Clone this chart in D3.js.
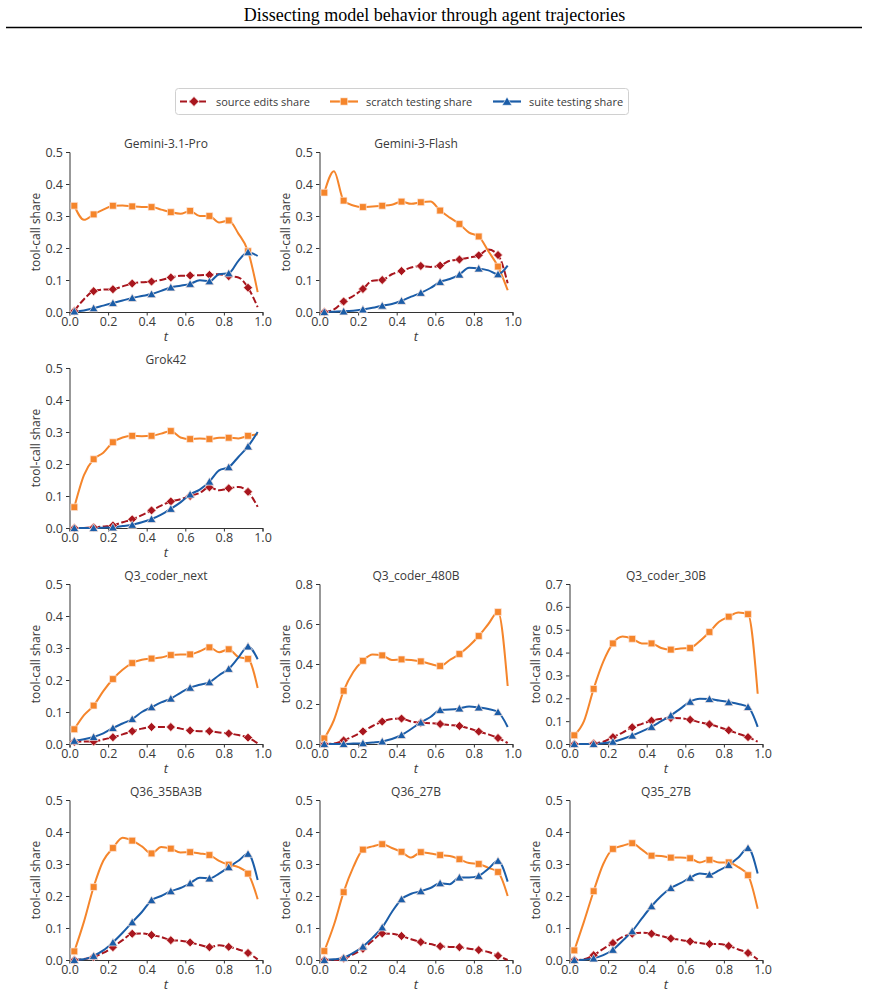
<!DOCTYPE html>
<html>
<head>
<meta charset="utf-8">
<script src="https://cdn.jsdelivr.net/npm/d3@7"></script>
<style>
  body { margin: 0; background: #fff; }
  svg text { font-family: "Open Sans", "DejaVu Sans", sans-serif; }
</style>
</head>
<body>
<svg id="chart" width="869" height="995"></svg>
<script>
// ---------------- DATA ----------------
const tValues = [0.025,0.075,0.125,0.175,0.225,0.275,0.325,0.375,0.425,0.475,0.525,0.575,0.625,0.675,0.725,0.775,0.825,0.875,0.925,0.975];
const models = ["Gemini-3.1-Pro","Gemini-3-Flash","Grok42","Q3_coder_next","Q3_coder_480B","Q3_coder_30B","Q36_35BA3B","Q36_27B","Q35_27B"];
const yMaxes = [0.5,0.5,0.5,0.5,0.8,0.7,0.5,0.5,0.5];
const seriesNames = ["source edits share","scratch testing share","suite testing share"];
const xTickLabels = [0,0.2,0.4,0.6,0.8,1.0];

const sourceEdits = [
  [0.003,0.04,0.065,0.07,0.071,0.08,0.089,0.093,0.095,0.10,0.108,0.113,0.114,0.115,0.116,0.118,0.112,0.108,0.076,0.015],
  [0.0,0.008,0.033,0.05,0.072,0.098,0.1,0.118,0.128,0.139,0.144,0.141,0.145,0.16,0.164,0.17,0.177,0.195,0.178,0.09],
  [0.0,0.0,0.002,0.005,0.008,0.018,0.027,0.04,0.055,0.07,0.083,0.09,0.1,0.11,0.127,0.118,0.124,0.128,0.113,0.066],
  [0.007,0.008,0.008,0.014,0.021,0.03,0.04,0.048,0.053,0.053,0.053,0.048,0.042,0.04,0.04,0.036,0.033,0.028,0.02,0.002],
  [0.0,0.002,0.018,0.038,0.063,0.09,0.112,0.125,0.127,0.112,0.106,0.104,0.1,0.095,0.09,0.078,0.062,0.048,0.03,0.005],
  [0.0,0.0,0.002,0.01,0.03,0.05,0.073,0.088,0.102,0.11,0.114,0.113,0.106,0.095,0.086,0.074,0.06,0.045,0.03,0.01],
  [0.0,0.003,0.01,0.022,0.04,0.062,0.082,0.083,0.078,0.072,0.062,0.06,0.055,0.047,0.04,0.046,0.041,0.033,0.022,0.002],
  [0.0,0.0,0.005,0.018,0.035,0.06,0.083,0.082,0.075,0.065,0.056,0.05,0.043,0.041,0.04,0.035,0.031,0.025,0.013,0.0],
  [0.0,0.002,0.015,0.035,0.053,0.072,0.082,0.085,0.082,0.075,0.067,0.063,0.058,0.053,0.05,0.05,0.044,0.033,0.022,0.002]
];
const scratchTesting = [
  [0.332,0.288,0.305,0.32,0.332,0.333,0.33,0.328,0.328,0.32,0.312,0.307,0.316,0.30,0.30,0.28,0.286,0.245,0.19,0.062],
  [0.373,0.44,0.348,0.333,0.328,0.33,0.332,0.335,0.345,0.338,0.343,0.345,0.317,0.295,0.275,0.248,0.236,0.19,0.142,0.068],
  [0.065,0.165,0.215,0.235,0.268,0.283,0.288,0.287,0.288,0.295,0.303,0.283,0.278,0.28,0.278,0.282,0.282,0.28,0.288,0.293],
  [0.046,0.09,0.12,0.165,0.203,0.232,0.253,0.263,0.267,0.27,0.278,0.28,0.28,0.29,0.302,0.287,0.296,0.272,0.266,0.175],
  [0.028,0.12,0.266,0.36,0.416,0.447,0.443,0.42,0.423,0.42,0.413,0.40,0.39,0.42,0.45,0.49,0.54,0.6,0.66,0.29],
  [0.038,0.1,0.241,0.36,0.44,0.47,0.46,0.44,0.44,0.42,0.413,0.418,0.42,0.45,0.49,0.535,0.557,0.575,0.568,0.22],
  [0.027,0.12,0.228,0.31,0.35,0.382,0.373,0.355,0.333,0.353,0.348,0.336,0.337,0.333,0.328,0.31,0.298,0.29,0.27,0.19],
  [0.028,0.11,0.212,0.29,0.345,0.355,0.362,0.35,0.338,0.32,0.337,0.333,0.328,0.325,0.315,0.303,0.3,0.288,0.275,0.2],
  [0.03,0.12,0.215,0.3,0.347,0.357,0.365,0.345,0.326,0.325,0.32,0.32,0.318,0.305,0.313,0.305,0.305,0.29,0.265,0.16]
];
const suiteTesting = [
  [0.002,0.005,0.012,0.02,0.028,0.036,0.044,0.05,0.056,0.066,0.077,0.082,0.088,0.099,0.096,0.118,0.121,0.16,0.187,0.175],
  [0.0,0.001,0.002,0.004,0.008,0.013,0.02,0.025,0.035,0.048,0.06,0.075,0.094,0.103,0.117,0.138,0.136,0.13,0.118,0.145],
  [0.0,0.0,0.0,0.001,0.002,0.006,0.01,0.018,0.028,0.042,0.06,0.08,0.105,0.12,0.145,0.18,0.19,0.222,0.255,0.3],
  [0.01,0.015,0.022,0.033,0.05,0.064,0.078,0.1,0.115,0.13,0.142,0.16,0.176,0.185,0.193,0.215,0.235,0.27,0.305,0.265],
  [0.0,0.0,0.0,0.002,0.004,0.008,0.013,0.025,0.045,0.075,0.108,0.135,0.17,0.172,0.178,0.188,0.183,0.175,0.16,0.085],
  [0.0,0.0,0.0,0.003,0.01,0.022,0.037,0.055,0.075,0.1,0.125,0.155,0.185,0.198,0.197,0.19,0.183,0.175,0.162,0.075],
  [0.0,0.002,0.013,0.03,0.055,0.085,0.118,0.15,0.187,0.2,0.215,0.225,0.24,0.257,0.255,0.27,0.29,0.31,0.332,0.25],
  [0.0,0.002,0.007,0.022,0.042,0.07,0.102,0.15,0.19,0.207,0.215,0.225,0.24,0.237,0.258,0.258,0.263,0.285,0.31,0.245],
  [0.0,0.001,0.005,0.015,0.032,0.06,0.09,0.13,0.168,0.2,0.225,0.24,0.257,0.27,0.267,0.28,0.297,0.32,0.35,0.27]
];

// ---------------- STYLE / LAYOUT ----------------
const colors = ["#A8161E", "#F5852B", "#1B5DA8"];
const symbols = [d3.symbolSquare, d3.symbolSquare, d3.symbolTriangle];
const symSizes = [40, 46, 34];
const symRotate = [45, 0, 0];
const dashes = ["7,2.5", null, null];
const axisColor = "#333";
const textColor = "#3a3a3a";

const colLeft = [69.5, 319.5, 569.5];
const rowTop = [152, 368, 584, 800];
const panelW = 193, panelH = 160;
const panelPos = [[0,0],[0,1],[1,0],[2,0],[2,1],[2,2],[3,0],[3,1],[3,2]];

const svg = d3.select("#chart");

// Title
svg.append("text").attr("x", 434.5).attr("y", 21).attr("text-anchor", "middle")
  .style("font-family", "'Liberation Serif', 'Times New Roman', serif")
  .style("font-size", "18px").attr("fill", "#000")
  .text("Dissecting model behavior through agent trajectories");
svg.append("line").attr("x1", 6).attr("x2", 862).attr("y1", 27.5).attr("y2", 27.5)
  .attr("stroke", "#000").attr("stroke-width", 1.3);

// Legend
const lg = svg.append("g");
lg.append("rect").attr("x", 175.5).attr("y", 88.5).attr("width", 453).attr("height", 26)
  .attr("rx", 3).attr("fill", "#fff").attr("stroke", "#d0d0d0");
const legX = [180, 330, 493];
seriesNames.forEach((name, i) => {
  const g = lg.append("g").attr("transform", `translate(${legX[i]},101.5)`);
  g.append("line").attr("x1", 0).attr("x2", 28).attr("y1", 0).attr("y2", 0)
    .attr("stroke", colors[i]).attr("stroke-width", 2.2)
    .attr("stroke-dasharray", dashes[i]);
  g.append("path").attr("d", d3.symbol().type(symbols[i]).size(symSizes[i] * 1.2)())
    .attr("transform", `translate(14,${i===2?1:0}) rotate(${symRotate[i]})`)
    .attr("fill", colors[i]).attr("stroke", "#fff").attr("stroke-width", 0.6);
  g.append("text").attr("x", 36).attr("y", 4).style("font-size", "11px")
    .attr("fill", textColor).text(name);
});

// Panels
models.forEach((model, m) => {
  const [r, c] = panelPos[m];
  const left = colLeft[c], top = rowTop[r];
  const g = svg.append("g").attr("transform", `translate(${left},${top})`);
  const x = d3.scaleLinear().domain([0, 1]).range([0, panelW]);
  const y = d3.scaleLinear().domain([0, yMaxes[m]]).range([panelH, 0]);
  const step = yMaxes[m] > 0.7 ? 0.2 : 0.1;
  const yt = d3.range(0, yMaxes[m] + 1e-9, step);

  const xAxis = g.append("g").attr("transform", `translate(0,${panelH})`)
    .call(d3.axisBottom(x).tickValues(xTickLabels).tickFormat(d3.format(".1f")).tickSizeOuter(0).tickSize(3.5).tickPadding(2));
  const yAxis = g.append("g")
    .call(d3.axisLeft(y).tickValues(yt).tickFormat(d3.format(".1f")).tickSizeOuter(0).tickSize(3.5).tickPadding(3));
  [xAxis, yAxis].forEach(a => {
    a.select(".domain").attr("stroke", axisColor).attr("stroke-width", 1);
    a.selectAll(".tick line").attr("stroke", axisColor).attr("stroke-width", 1);
    a.selectAll(".tick text").attr("fill", textColor).style("font-size", "12.5px")
      .style("font-family", "'Open Sans', sans-serif");
  });

  const series = [sourceEdits[m], scratchTesting[m], suiteTesting[m]];
  const line = d3.line().x((d, i) => x(tValues[i])).y(d => y(d)).curve(d3.curveMonotoneX);
  series.forEach((vals, s) => {
    g.append("path").attr("d", line(vals)).attr("fill", "none")
      .attr("stroke", colors[s]).attr("stroke-width", 2)
      .attr("stroke-dasharray", dashes[s]).attr("stroke-linejoin", "round");
  });
  series.forEach((vals, s) => {
    g.selectAll(null).data(vals.map((v, i) => [tValues[i], v]).filter((d, i) => i % 2 === 0))
      .enter().append("path")
      .attr("d", d3.symbol().type(symbols[s]).size(symSizes[s])())
      .attr("transform", d => `translate(${x(d[0])},${y(d[1]) + (s===2?1:0)}) rotate(${symRotate[s]})`)
      .attr("fill", colors[s]).attr("stroke", "#fde8e0").attr("stroke-width", 0.7);
  });

  g.append("text").attr("x", panelW / 2).attr("y", -4.5).attr("text-anchor", "middle")
    .style("font-size", "12px").attr("fill", textColor).text(model);
  g.append("text").attr("x", panelW / 2).attr("y", panelH + 29).attr("text-anchor", "middle")
    .style("font-size", "13px").style("font-style", "italic").attr("fill", textColor).text("t");
  g.append("text").attr("transform", `translate(-30,${panelH / 2}) rotate(-90)`)
    .attr("text-anchor", "middle").style("font-size", "12px").attr("fill", textColor)
    .text("tool-call share");
});
</script>
</body>
</html>
